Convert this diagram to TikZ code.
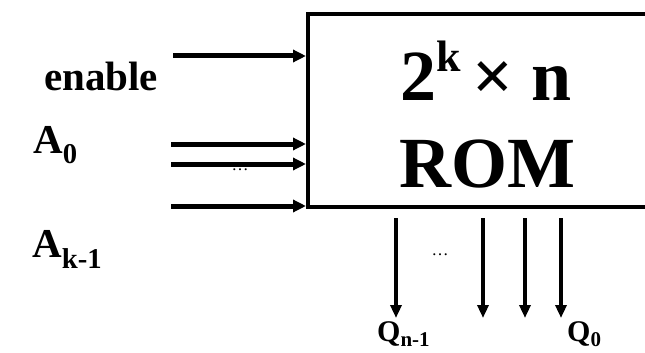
\documentclass[tikz,border=0pt]{standalone}
\usepackage{fontspec}
\setmainfont{Liberation Serif}
\usetikzlibrary{arrows.meta}

\newcommand{\upk}[1]{\raisebox{0.4em}{\fontsize{44}{44}\selectfont #1}}

\begin{document}
\begin{tikzpicture}
  [x=1pt, y=-1pt,
   rombox/.style={draw=black, line width=4pt, minimum width=352pt, minimum height=193pt, inner sep=0pt},
   romtext/.style={font=\fontsize{72}{86}\selectfont\bfseries, inner sep=0pt, anchor=base},
   pinlabel/.style={font=\fontsize{41}{48}\selectfont\bfseries, inner sep=0pt, anchor=base west},
   outlabel/.style={font=\fontsize{30}{36}\selectfont\bfseries, inner sep=0pt, anchor=base west},
   dots/.style={font=\fontsize{17}{20}\selectfont, inner sep=0pt, anchor=base},
   inwire/.style={line width=5pt, -{Triangle[length=13pt, width=12pt]}},
   outwire/.style={line width=4.5pt, -{Triangle[length=13pt, width=11pt]}}]

  \clip (0,0) rectangle (645,353);

  % the memory block, cut off at the right edge
  \node[rombox] (rom) at (484,110.5) {};
  \node[romtext] (size) at (486,100) {2\upk{k}\,× n};
  \node[romtext] (name) at (487,187) {ROM};

  % inputs
  \node[pinlabel] (enable) at (44,90) {enable};
  \node[pinlabel] (a0) at (33,153) {A\textsubscript{0}};
  \node[pinlabel] (ak) at (32,257) {A\textsubscript{k-1}};

  \coordinate (in1) at (173,56);
  \coordinate (in2) at (171,144);
  \coordinate (in3) at (171,164);
  \coordinate (in4) at (171,206);

  \foreach \pin in {in1, in2, in3, in4}
    \draw[inwire] (\pin) -- (\pin -| rom.west);

  \node[dots] (indots) at (240,170) {\dots};

  % outputs
  \foreach \x [count=\i] in {396, 483, 525, 561} {
    \coordinate (top\i) at (\x,218);
    \coordinate (bot\i) at (\x,318);
    \draw[outwire] (top\i) -- (bot\i);
  }

  \node[dots] (outdots) at (440,255) {\dots};

  \node[outlabel] (qn) at (377,341) {Q\textsubscript{n-1}};
  \node[outlabel] (q0) at (567,341) {Q\textsubscript{0}};
\end{tikzpicture}
\end{document}
